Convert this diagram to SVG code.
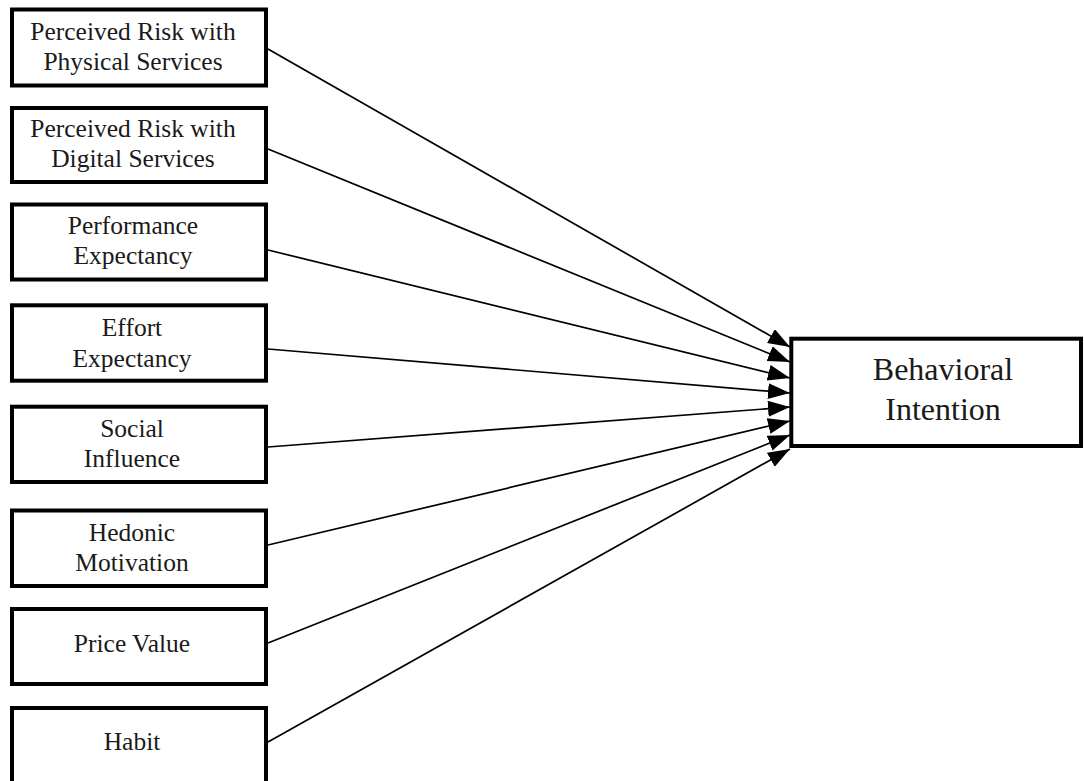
<svg xmlns="http://www.w3.org/2000/svg" width="1084" height="781" viewBox="0 0 1084 781">
<defs>
<marker id="ah" markerUnits="userSpaceOnUse" markerWidth="24" markerHeight="17" refX="22" refY="8" orient="auto">
<path d="M0,0 L22,8 L0,16 z" fill="#000"/>
</marker>
<style>
.box{fill:#fff;stroke:#000;stroke-width:4}
.t{font-family:"Liberation Serif","Times New Roman",serif;font-size:25.5px;fill:#1a1a1a;text-anchor:middle}
.tb{font-family:"Liberation Serif","Times New Roman",serif;font-size:32px;fill:#1a1a1a;text-anchor:middle}
.c{stroke:#000;stroke-width:1.7;fill:none;marker-end:url(#ah)}
</style>
</defs>
<rect width="1084" height="781" fill="#fff"/>
<g id="connectors">
<line class="c" x1="268" y1="49" x2="790" y2="347"/>
<line class="c" x1="268" y1="149" x2="790" y2="362"/>
<line class="c" x1="268" y1="250" x2="790" y2="378"/>
<line class="c" x1="268" y1="349" x2="790" y2="393"/>
<line class="c" x1="268" y1="447" x2="790" y2="407"/>
<line class="c" x1="268" y1="545" x2="790" y2="421"/>
<line class="c" x1="268" y1="643" x2="790" y2="435"/>
<line class="c" x1="268" y1="742" x2="790" y2="449"/>
</g>
<g id="n1"><rect class="box" x="12" y="9.5" width="254" height="76"/><text class="t" x="133" y="40">Perceived Risk with</text><text class="t" x="133" y="70">Physical Services</text></g>
<g id="n2"><rect class="box" x="12" y="108" width="254" height="74"/><text class="t" x="133" y="137">Perceived Risk with</text><text class="t" x="133" y="167">Digital Services</text></g>
<g id="n3"><rect class="box" x="12" y="204.5" width="254" height="75"/><text class="t" x="133" y="234">Performance</text><text class="t" x="133" y="264">Expectancy</text></g>
<g id="n4"><rect class="box" x="12" y="305.3" width="254" height="75.4"/><text class="t" x="132" y="336">Effort</text><text class="t" x="132" y="367">Expectancy</text></g>
<g id="n5"><rect class="box" x="12" y="406.7" width="254" height="75.3"/><text class="t" x="132" y="437">Social</text><text class="t" x="132" y="467">Influence</text></g>
<g id="n6"><rect class="box" x="12" y="510.5" width="254" height="75.5"/><text class="t" x="132" y="541">Hedonic</text><text class="t" x="132" y="571">Motivation</text></g>
<g id="n7"><rect class="box" x="12" y="609" width="254" height="75"/><text class="t" x="132" y="652">Price Value</text></g>
<g id="n8"><rect class="box" x="12" y="708" width="254" height="90"/><text class="t" x="132" y="750">Habit</text></g>
<g id="n9"><rect class="box" x="791.3" y="338.7" width="289.7" height="107.3"/><text class="tb" x="943" y="380">Behavioral</text><text class="tb" x="943" y="420">Intention</text></g>
</svg>
